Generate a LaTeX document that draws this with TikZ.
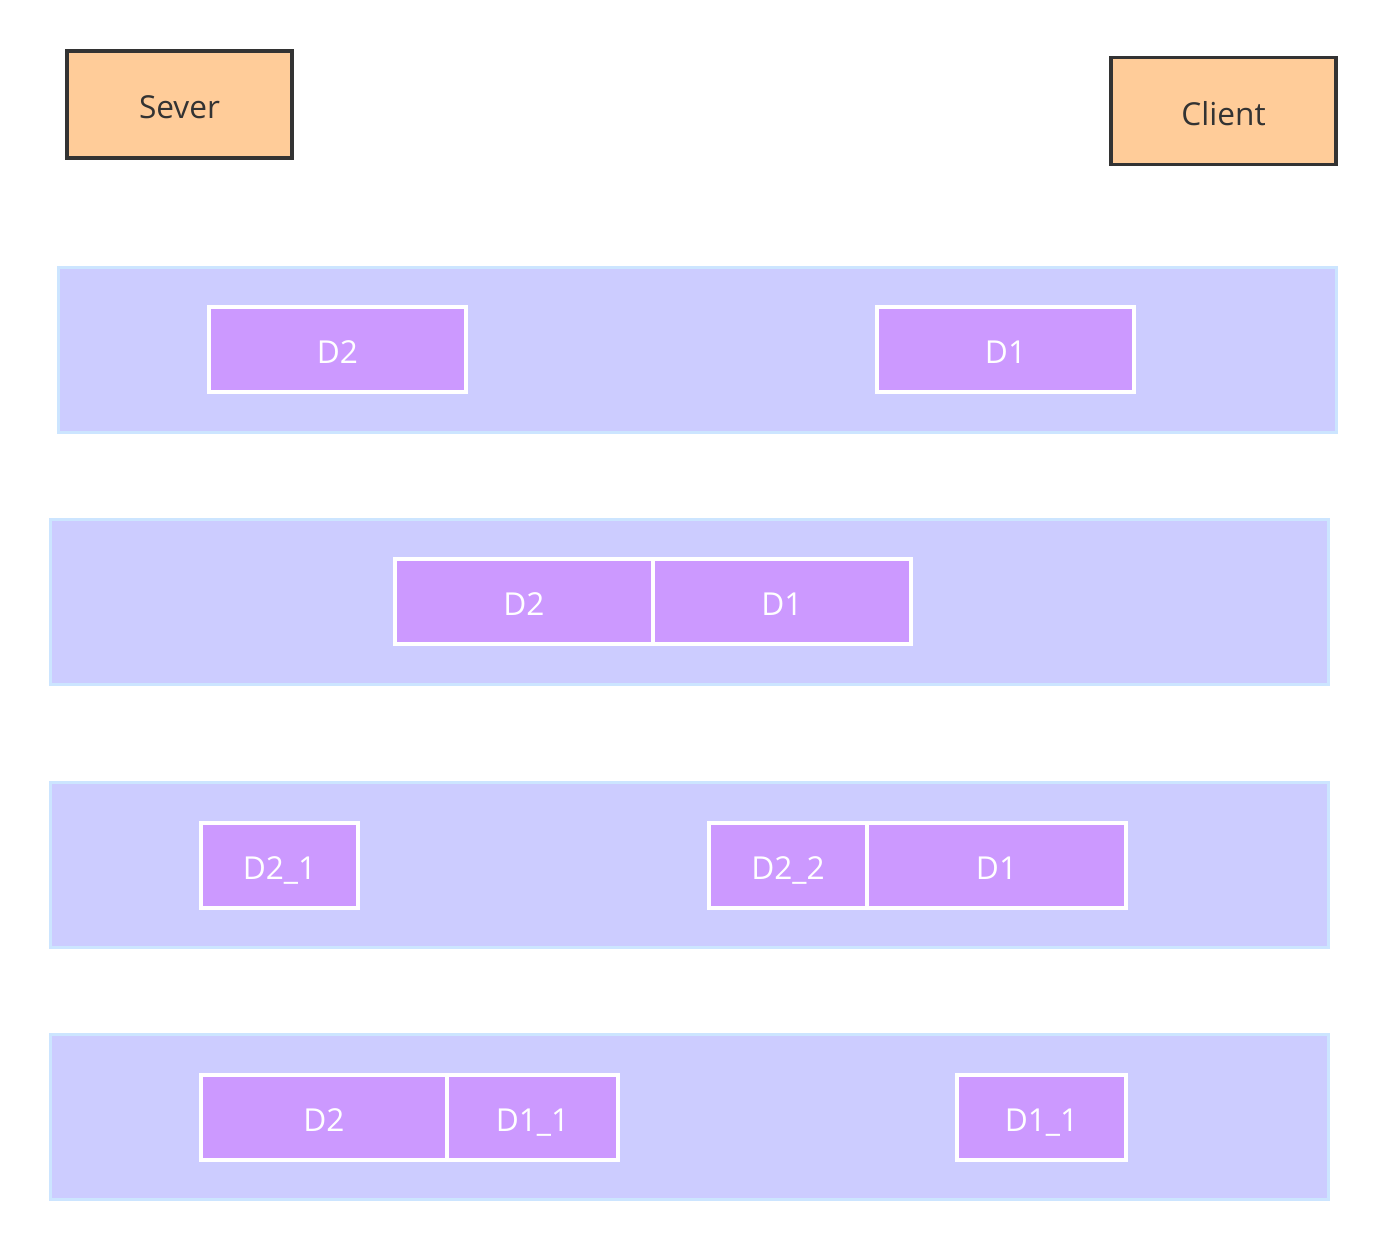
\documentclass[tikz,border=0pt]{standalone}
\usepackage{fontspec}
\setmainfont{Open Sans}
\usepackage{tikz}
\usetikzlibrary{positioning}
\definecolor{peach}{HTML}{FFCC99}
\definecolor{dunkel}{HTML}{333333}
\definecolor{bandfill}{HTML}{CCCCFF}
\definecolor{bandrand}{HTML}{CCE5FF}
\definecolor{lila}{HTML}{CC99FF}
\newcommand{\pxl}{0.02cm}

\begin{document}
\begin{tikzpicture}[x=0.02cm,y=-0.02cm,
  endpunkt/.style={draw=dunkel,line width=2.1pt,fill=peach,text=dunkel,
    minimum width=225*\pxl,minimum height=107*\pxl,inner sep=0pt,
    text height=16.3pt,text depth=0pt,
    font=\fontsize{18}{20}\selectfont},
  band/.style={draw=bandrand,line width=1.7pt,fill=bandfill,
    minimum width=1278*\pxl,minimum height=165*\pxl,inner sep=0pt},
  paket/.style={draw=white,line width=2.2pt,fill=lila,text=white,
    minimum height=85*\pxl,inner sep=0pt,outer sep=0pt,
    text height=16.3pt,text depth=0pt,
    font=\fontsize{18}{20}\selectfont}]
\useasboundingbox (0,0) rectangle (1388,1252);
%Sender und Empfaenger
\node[endpunkt] (sever) at (179.5,104.5) {Sever};
\node[endpunkt] (client) at (1223.5,111) {Client};
%vier Baender, untereinander
\node[band] (bandA) at (697.5,350) {};
\node[band] (bandB) at (689.5,602) {};
\node[band] (bandC) at (689.5,865) {};
\node[band] (bandD) at (689.5,1117) {};
%Band 1: getrennt
\node[paket,minimum width=257*\pxl] (aDzwei) at (337.5,349.5) {D2};
\node[paket,minimum width=257*\pxl] (aDeins) at (1005.5,349.5) {D1};
%Band 2: zusammen
\node[paket,minimum width=258*\pxl] (bDzwei) at (524,601.5) {D2};
\node[paket,minimum width=258*\pxl,anchor=west] (bDeins) at (bDzwei.east) {D1};
%Band 3: D2 geteilt
\node[paket,minimum width=157*\pxl] (cDzweiA) at (279.5,865.5) {D2\_1};
\node[paket,minimum width=158*\pxl] (cDzweiB) at (788,865.5) {D2\_2};
\node[paket,minimum width=259*\pxl,anchor=west] (cDeins) at (cDzweiB.east) {D1};
%Band 4: D1 geteilt
\node[paket,minimum width=246*\pxl] (dDzwei) at (324,1117.5) {D2};
\node[paket,minimum width=171*\pxl,anchor=west] (dDeinsA) at (dDzwei.east) {D1\_1};
\node[paket,minimum width=169*\pxl] (dDeinsB) at (1041.5,1117.5) {D1\_1};
\end{tikzpicture}
\end{document}
